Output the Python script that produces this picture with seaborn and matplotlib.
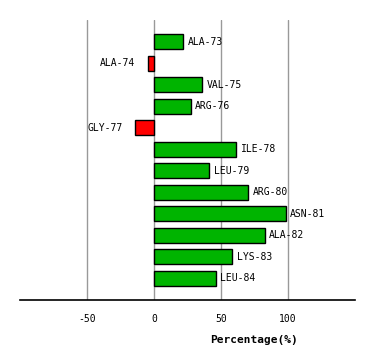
import matplotlib
matplotlib.use("Agg")
import matplotlib.pyplot as plt
import seaborn as sns
import pandas as pd

residues = ["ALA-73", "ALA-74", "VAL-75", "ARG-76", "GLY-77", "ILE-78",
            "LEU-79", "ARG-80", "ASN-81", "ALA-82", "LYS-83", "LEU-84"]
percentages = [22, -4.5, 36, 27.5, -14.3, 61.5, 41.3, 70.5, 98.3, 82.5, 58.5, 46.5]
x_ticks = [-50, 0, 50, 100]

sns.set_theme(style="white")
plt.rcParams['font.family'] = ['DejaVu Sans Mono']
plt.rcParams['text.color'] = 'black'
plt.rcParams['xtick.color'] = 'black'
plt.rcParams['axes.labelcolor'] = 'black'

df = pd.DataFrame({"residue": residues, "pct": percentages})
df["sign"] = ["neg" if v < 0 else "pos" for v in df["pct"]]

fig = plt.figure(figsize=(3.74, 3.60), dpi=100)
ax = fig.add_axes([20/374, 60/360, 335/374, 280/360])

sns.barplot(data=df, x="pct", y="residue", hue="sign", orient="h",
            palette={"pos": "#00b400", "neg": "#ff0000"}, dodge=False,
            saturation=1, width=0.7, edgecolor="black", linewidth=1.0,
            legend=False, ax=ax, zorder=3)

ax.set_xlim(-100, 150)
ax.set_ylim(12, -1)
ax.set_xticks(x_ticks)
ax.set_xticklabels([str(t) for t in x_ticks], fontsize=7, color="black")
ax.tick_params(axis="x", length=0, pad=10)
ax.set_yticks([])
ax.set_ylabel("")
for t in x_ticks:
    ax.axvline(t, color="#999999", linewidth=1.0, zorder=1)

for i, (name, v) in enumerate(zip(residues, percentages)):
    if v >= 0:
        ax.annotate(name, xy=(v, i), xytext=(3, 0), textcoords="offset points",
                    ha="left", va="center", fontsize=7, color="black")
    else:
        ax.annotate(name, xy=(v, i), xytext=(-9, 0), textcoords="offset points",
                    ha="right", va="center", fontsize=7, color="black")

for s in ["top", "left", "right"]:
    ax.spines[s].set_visible(False)
ax.spines["bottom"].set_color("black")
ax.spines["bottom"].set_linewidth(1.2)

ax.set_xlabel("Percentage(%)", fontsize=8, fontweight="bold", color="black")
ax.xaxis.set_label_coords((254.3 - 20) / 335, -35 / 280)

fig.savefig("out.png", dpi=100)
